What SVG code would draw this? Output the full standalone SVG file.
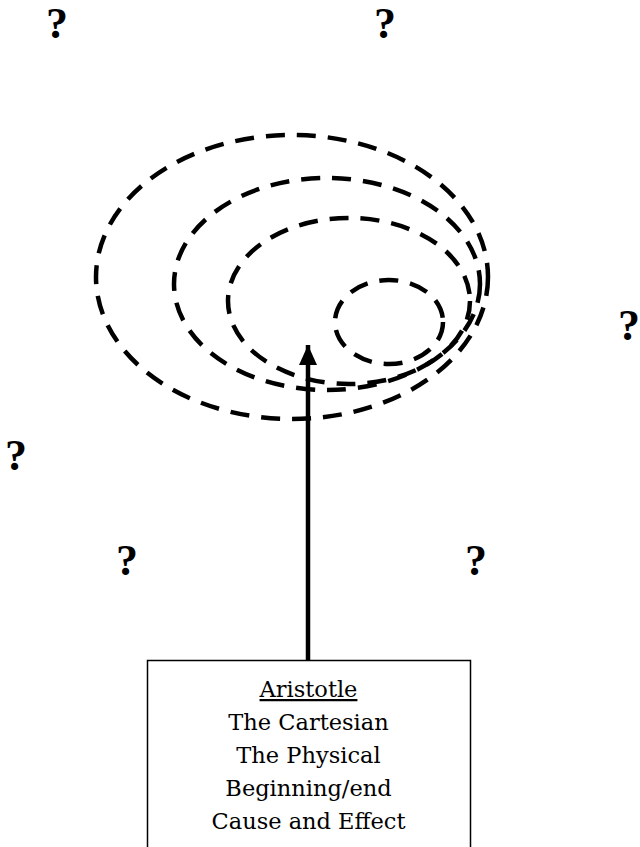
<svg xmlns="http://www.w3.org/2000/svg" width="640" height="847" viewBox="0 0 640 847">
<style>
.ring{fill:none;stroke:#000;stroke-width:4.5;stroke-dasharray:19 12}
.q{font-family:"Liberation Serif",serif;font-weight:bold;font-size:44px;fill:#000;text-anchor:middle}
.t{font-family:"DejaVu Serif",serif;font-size:22.5px;fill:#000;text-anchor:middle}
</style>
<defs>
<marker id="ah" markerWidth="20" markerHeight="18" refX="20" refY="0" orient="auto" markerUnits="userSpaceOnUse" viewBox="0 -9 20 18">
<path d="M0,-9 L20,0 L0,9 Z" fill="#000"/>
</marker>
</defs>
<g id="rings">
<ellipse class="ring" cx="292" cy="277" rx="196" ry="142"/>
<ellipse class="ring" cx="327" cy="284" rx="153" ry="106"/>
<ellipse class="ring" cx="349" cy="301" rx="121" ry="83"/>
<ellipse class="ring" cx="389" cy="322" rx="54" ry="42"/>
</g>
<g id="questions">
<text class="q" x="57" y="38">?</text>
<text class="q" x="385" y="38">?</text>
<text class="q" x="629" y="340">?</text>
<text class="q" x="16" y="470">?</text>
<text class="q" x="127" y="575">?</text>
<text class="q" x="476" y="575">?</text>
</g>
<g id="connectors">
<line x1="308" y1="660" x2="308" y2="345" stroke="#000" stroke-width="4.5" marker-end="url(#ah)"/>
</g>
<g id="aristotle">
<rect x="147.5" y="660.5" width="323" height="200" fill="#fff" stroke="#000" stroke-width="1.5"/>
<text class="t" x="308.5" y="697" text-decoration="underline">Aristotle</text>
<text class="t" x="308.5" y="730">The Cartesian</text>
<text class="t" x="308.5" y="763">The Physical</text>
<text class="t" x="308.5" y="796">Beginning/end</text>
<text class="t" x="308.5" y="829">Cause and Effect</text>
</g>
</svg>
